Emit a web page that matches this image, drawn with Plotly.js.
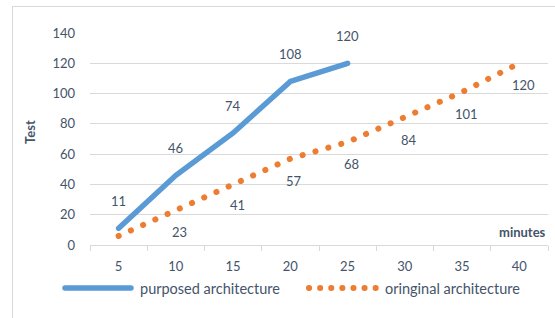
<!DOCTYPE html>
<html><head><meta charset="utf-8">
<script src="https://cdn.plot.ly/plotly-3.0.1.min.js"></script>
<style>
html,body{margin:0;padding:0;background:#fff;}
#frame{position:absolute;left:12px;top:6px;width:600px;height:400px;border:1px solid #d9d9d9;box-sizing:border-box;}
#chart{position:absolute;left:0;top:0;width:555px;height:318px;}
#chart path.js-line, #chart .shapelayer path{stroke-linecap:round;}
</style></head>
<body>
<div id="frame"></div>
<div id="chart"></div>
<script>
const categories = ['5','10','15','20','25','30','35','40'];
const purposedX = ['5','10','15','20','25'];
const purposedValues = [11, 46, 74, 108, 120];
const originalValues = [6, 23, 41, 57, 68, 84, 101, 120];
const originalLabels = ['', '23', '41', '57', '68', '84', '101', '120'];
const yTicks = [0, 20, 40, 60, 80, 100, 120, 140];
const seriesNames = ['purposed architecture', 'oringinal architecture'];

const txtColor = '#44546A';
const font = 'Lato, "Open Sans", sans-serif';
const blue = '#5B9BD5', orange = '#ED7D31';

const traces = [
  {
    x: purposedX, y: purposedValues, type: 'scatter', mode: 'lines',
    name: seriesNames[0],
    line: {color: blue, width: 5.5}
  },
  {
    x: categories, y: originalValues, type: 'scatter', mode: 'lines',
    name: seriesNames[1],
    line: {color: orange, width: 6, dash: '0.1px,13.3px'}
  }
];

// plot-area pixel helpers (plot area: x 90..548, y 33..245)
const px = v => (v - 90) / 458;
const py = v => (245 - v) / 212;

const labelFont = {family: font, size: 13, color: txtColor};
const annotations = [];
purposedX.forEach((c, i) => {
  annotations.push({x: categories.indexOf(c), y: purposedValues[i], xref: 'x', yref: 'y',
    text: String(purposedValues[i]), showarrow: false, yshift: 27,
    font: labelFont});
});
categories.forEach((c, i) => {
  if (!originalLabels[i]) return;
  annotations.push({x: i, y: originalValues[i], xref: 'x', yref: 'y',
    text: originalLabels[i], showarrow: false, yshift: -22, xshift: 4,
    font: labelFont});
});
const legendFont = {family: font, size: 14.5, color: txtColor};
annotations.push(
  {text: '<b>Test</b>', xref: 'paper', yref: 'paper', x: px(30), y: py(132),
   xanchor: 'center', yanchor: 'middle',
   textangle: -90, showarrow: false, font: {family: font, size: 13, color: txtColor}},
  {text: '<b>minutes</b>', xref: 'paper', yref: 'paper', x: 1, y: py(232),
   xanchor: 'right', yanchor: 'middle', showarrow: false,
   font: {family: font, size: 13, color: txtColor}},
  {text: seriesNames[0], xref: 'paper', yref: 'paper', x: px(138), y: py(288),
   xanchor: 'left', yanchor: 'middle', showarrow: false, font: legendFont},
  {text: seriesNames[1], xref: 'paper', yref: 'paper', x: px(383), y: py(288),
   xanchor: 'left', yanchor: 'middle', showarrow: false, font: legendFont}
);

const shapes = [
  {type: 'line', xref: 'paper', yref: 'paper', x0: px(65), x1: px(131), y0: py(288), y1: py(288),
   line: {color: blue, width: 5.5}},
  {type: 'line', xref: 'paper', yref: 'paper', x0: px(309), x1: px(376), y0: py(288), y1: py(288),
   line: {color: orange, width: 6, dash: '0.1px,11px'}}
];

const layout = {
  width: 555, height: 318,
  margin: {l: 90, r: 7, t: 33, b: 73},
  paper_bgcolor: 'rgba(0,0,0,0)', plot_bgcolor: 'rgba(0,0,0,0)',
  font: {family: font, size: 13, color: txtColor},
  xaxis: {
    type: 'category', categoryorder: 'array', categoryarray: categories,
    range: [-0.5, 7.5], showgrid: false, zeroline: false,
    showline: true, linecolor: '#d9d9d9', linewidth: 1,
    ticks: 'outside', tickson: 'boundaries', ticklen: 5, tickcolor: '#d9d9d9',
    tickfont: {family: font, size: 13, color: txtColor},
    ticklabelstandoff: 9
  },
  yaxis: {
    range: [0, 140], tickvals: yTicks, ticktext: yTicks.map(String),
    showgrid: true, gridcolor: '#d9d9d9', gridwidth: 1,
    zeroline: false, showline: false, ticks: '',
    tickfont: {family: font, size: 13, color: txtColor},
    ticklabelstandoff: 14
  },
  showlegend: false,
  shapes: shapes,
  annotations: annotations
};

Plotly.newPlot('chart', traces, layout, {displayModeBar: false, staticPlot: true});
</script>
</body></html>
